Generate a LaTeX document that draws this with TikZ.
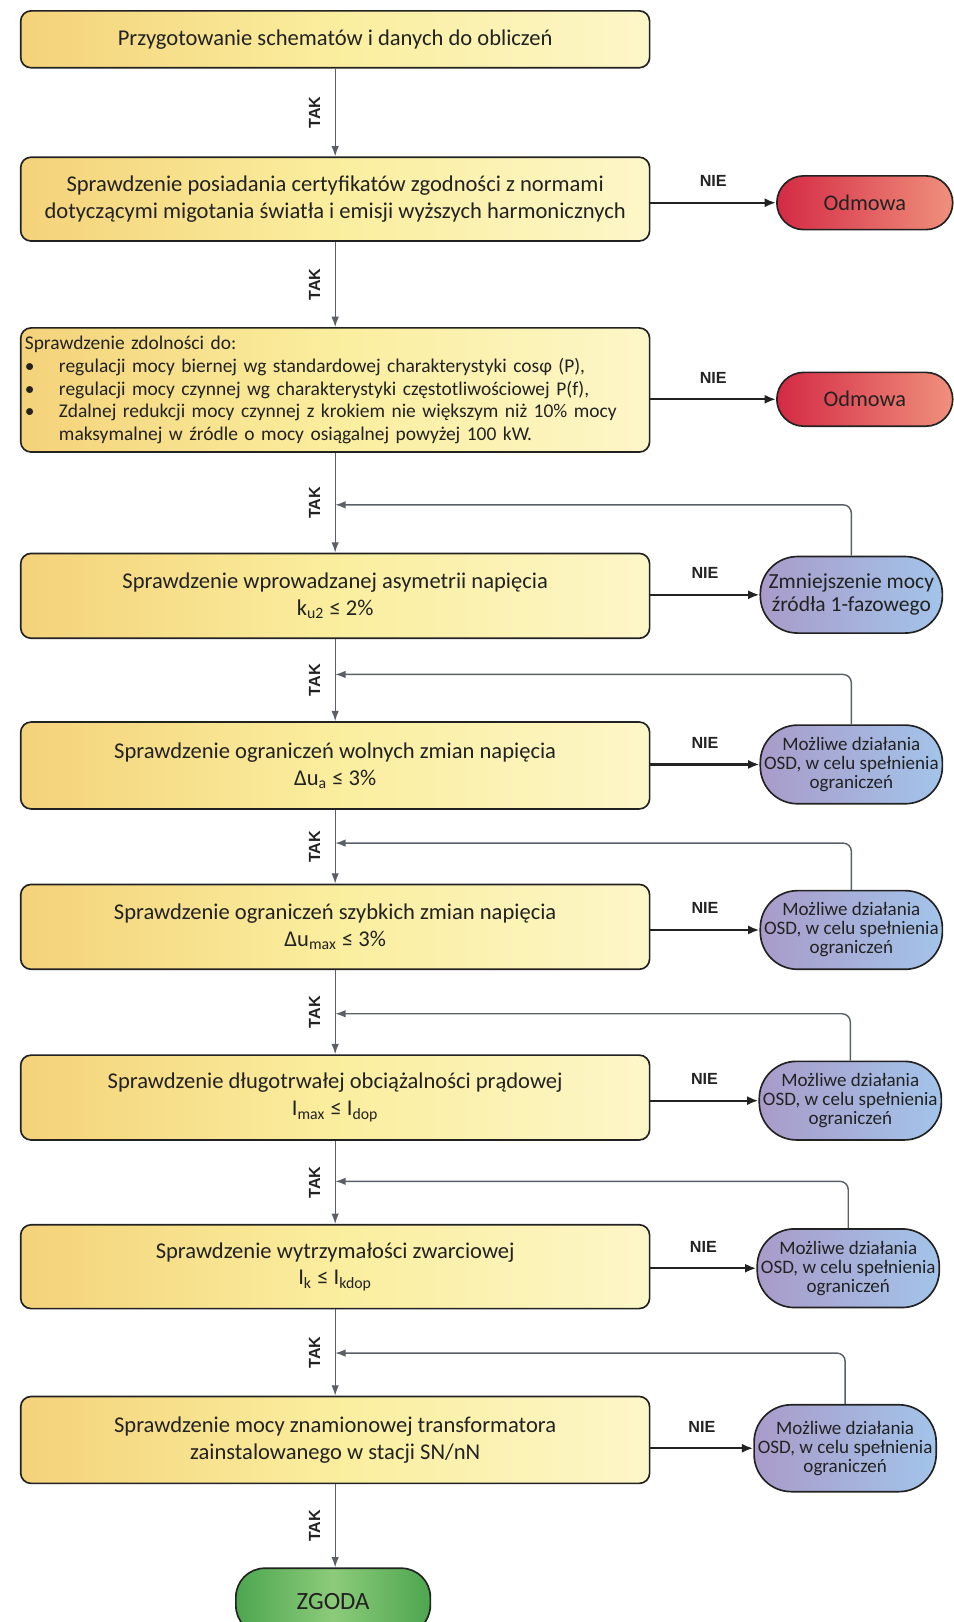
\documentclass[tikz,border=0pt]{standalone}
\usepackage{fontspec}
\setmainfont{Carlito}
\newfontfamily\lblfont{Liberation Sans}
\usetikzlibrary{arrows.meta,calc}
\definecolor{ink}{HTML}{222222}
\definecolor{wire}{HTML}{5B6068}
\definecolor{sandL}{HTML}{F4D27A}
\definecolor{sandM}{HTML}{FAEE9E}
\definecolor{sandR}{HTML}{FDF6C8}
\definecolor{rejL}{HTML}{D42A44}
\definecolor{rejR}{HTML}{F0907C}
\definecolor{fixL}{HTML}{A99BC9}
\definecolor{fixR}{HTML}{A3C4EA}
\definecolor{okL}{HTML}{4DA64F}
\definecolor{okM}{HTML}{8CCB7A}
\newcommand{\blt}{\makebox[16.5pt][l]{\textbullet}}
\newcommand{\ind}{\hspace*{16.5pt}}
\tikzset{
  every node/.style={text=ink},
  check/.style={draw=ink,line width=0.8pt,rounded corners=5pt,left color=sandL,right color=sandR,middle color=sandM,
    minimum width=304pt,align=center,inner xsep=2pt,font=\fontsize{10.9}{13}\selectfont},
  listbox/.style={check,align=left,text width=300pt,font=\fontsize{9.4}{11}\selectfont},
  reject/.style={draw=ink,line width=0.8pt,rounded corners=13pt,left color=rejL,right color=rejR,
    minimum width=85pt,minimum height=26pt,font=\fontsize{10.8}{13}\selectfont},
  fix/.style={draw=ink,line width=0.8pt,rounded corners=18pt,left color=fixL,right color=fixR,
    minimum width=88pt,minimum height=38pt,align=center,inner sep=1pt,font=\fontsize{9.2}{9.2}\selectfont},
  accept/.style={draw=ink,line width=0.8pt,rounded corners=14pt,left color=okL,right color=okL,middle color=okM,
    minimum width=94pt,minimum height=32pt,font=\fontsize{12}{14}\selectfont},
  yes/.style={-{Latex[length=5pt,width=3.6pt]},draw=wire,line width=0.6pt},
  no/.style={-{Latex[length=5.5pt,width=4.4pt]},draw=ink,line width=1.1pt},
  back/.style={-{Latex[length=5pt,width=3.6pt]},draw=wire,line width=0.7pt,rounded corners=4pt},
  taklbl/.style={font=\lblfont\bfseries\fontsize{7.8}{9}\selectfont,xshift=-10pt,rotate=90},
  nielbl/.style={font=\lblfont\bfseries\fontsize{7.8}{9}\selectfont,yshift=10.5pt}
}
\begin{document}
\begin{tikzpicture}[x=0.5pt,y=-0.5pt]
  \useasboundingbox (0,0) rectangle (922,1568);

  \node[check,minimum height=27.5pt] (prep) at (324,38) {Przygotowanie schematów i danych do obliczeń};
  \node[check,minimum height=40.5pt] (cert) at (324,192.5) {Sprawdzenie posiadania certyfikatów zgodności z normami\\dotyczącymi migotania światła i emisji wyższych harmonicznych};
  \node[listbox,minimum height=60pt] (ability) at (324,377) {Sprawdzenie zdolności do:\\
    \blt regulacji mocy biernej wg standardowej charakterystyki cosφ (P),\\
    \blt regulacji mocy czynnej wg charakterystyki częstotliwościowej P(f),\\
    \blt Zdalnej redukcji mocy czynnej z krokiem nie większym niż 10\% mocy\\
    \ind maksymalnej w źródle o mocy osiągalnej powyżej 100 kW.};
  \node[check,minimum height=41pt] (asym) at (324,576) {Sprawdzenie wprowadzanej asymetrii napięcia\\k\textsubscript{u2} ≤ 2\%};
  \node[check,minimum height=42pt] (slow) at (324,740) {Sprawdzenie ograniczeń wolnych zmian napięcia\\Δu\textsubscript{a} ≤ 3\%};
  \node[check,minimum height=41pt] (fast) at (324,896) {Sprawdzenie ograniczeń szybkich zmian napięcia\\Δu\textsubscript{max} ≤ 3\%};
  \node[check,minimum height=41pt] (load) at (324,1061) {Sprawdzenie długotrwałej obciążalności prądowej\\I\textsubscript{max} ≤ I\textsubscript{dop}};
  \node[check,minimum height=40.5pt] (short) at (324,1224.5) {Sprawdzenie wytrzymałości zwarciowej\\I\textsubscript{k} ≤ I\textsubscript{kdop}};
  \node[check,minimum height=42pt] (trafo) at (324,1392) {Sprawdzenie mocy znamionowej transformatora\\zainstalowanego w stacji SN/nN};
  \node[accept] (agree) at (322,1548) {ZGODA};

  \node[reject] (refuse1) at (836,196) {Odmowa};
  \node[reject] (refuse2) at (836,386) {Odmowa};
  \node[fix,minimum height=37pt,font=\fontsize{10.4}{11}\selectfont] (reduce) at (823,575) {Zmniejszenie mocy\\źródła 1-fazowego};
  \node[fix] (osd5) at (823,739) {Możliwe działania\\OSD, w celu spełnienia\\ograniczeń};
  \node[fix] (osd6) at (823,899) {Możliwe działania\\OSD, w celu spełnienia\\ograniczeń};
  \node[fix] (osd7) at (822,1064) {Możliwe działania\\OSD, w celu spełnienia\\ograniczeń};
  \node[fix] (osd8) at (820,1226) {Możliwe działania\\OSD, w celu spełnienia\\ograniczeń};
  \node[fix,minimum height=42pt] (osd9) at (817,1400) {Możliwe działania\\OSD, w celu spełnienia\\ograniczeń};

  \coordinate (j4) at (324,488);
  \coordinate (j5) at (324,652);
  \coordinate (j6) at (324,815);
  \coordinate (j7) at (324,980);
  \coordinate (j8) at (324,1142);
  \coordinate (j9) at (324,1308);

  % main path
  \draw[yes] (prep) -- node[taklbl]{TAK} (cert);
  \draw[yes] (cert) -- node[taklbl]{TAK} (ability);
  \draw[yes] (ability) -- node[taklbl]{TAK} (asym);
  \draw[yes] (asym) -- node[taklbl]{TAK} (slow);
  \draw[yes] (slow) -- node[taklbl]{TAK} (fast);
  \draw[yes] (fast) -- node[taklbl]{TAK} (load);
  \draw[yes] (load) -- node[taklbl]{TAK} (short);
  \draw[yes] (short) -- node[taklbl]{TAK} (trafo);
  \draw[yes] (trafo.south) -- node[taklbl]{TAK} (trafo.south |- agree.north);

  % rejections
  \draw[no] (cert.east |- refuse1.west) -- node[nielbl]{NIE} (refuse1.west);
  \draw[no] (ability.east |- refuse2.west) -- node[nielbl]{NIE} (refuse2.west);
  \draw[no] (asym.east |- reduce.west) -- node[nielbl]{NIE} (reduce.west);
  \draw[no] (slow.east |- osd5.west) -- node[nielbl]{NIE} (osd5.west);
  \draw[no] (fast.east |- osd6.west) -- node[nielbl]{NIE} (osd6.west);
  \draw[no] (load.east |- osd7.west) -- node[nielbl]{NIE} (osd7.west);
  \draw[no] (short.east |- osd8.west) -- node[nielbl]{NIE} (osd8.west);
  \draw[no] (trafo.east |- osd9.west) -- node[nielbl]{NIE} (osd9.west);

  % back to the main path
  \draw[back] (reduce.north) |- (j4);
  \draw[back] (osd5.north) |- (j5);
  \draw[back] (osd6.north) |- (j6);
  \draw[back] (osd7.north) |- (j7);
  \draw[back] (osd8.north) |- (j8);
  \draw[back] (osd9.north) |- (j9);
\end{tikzpicture}
\end{document}
